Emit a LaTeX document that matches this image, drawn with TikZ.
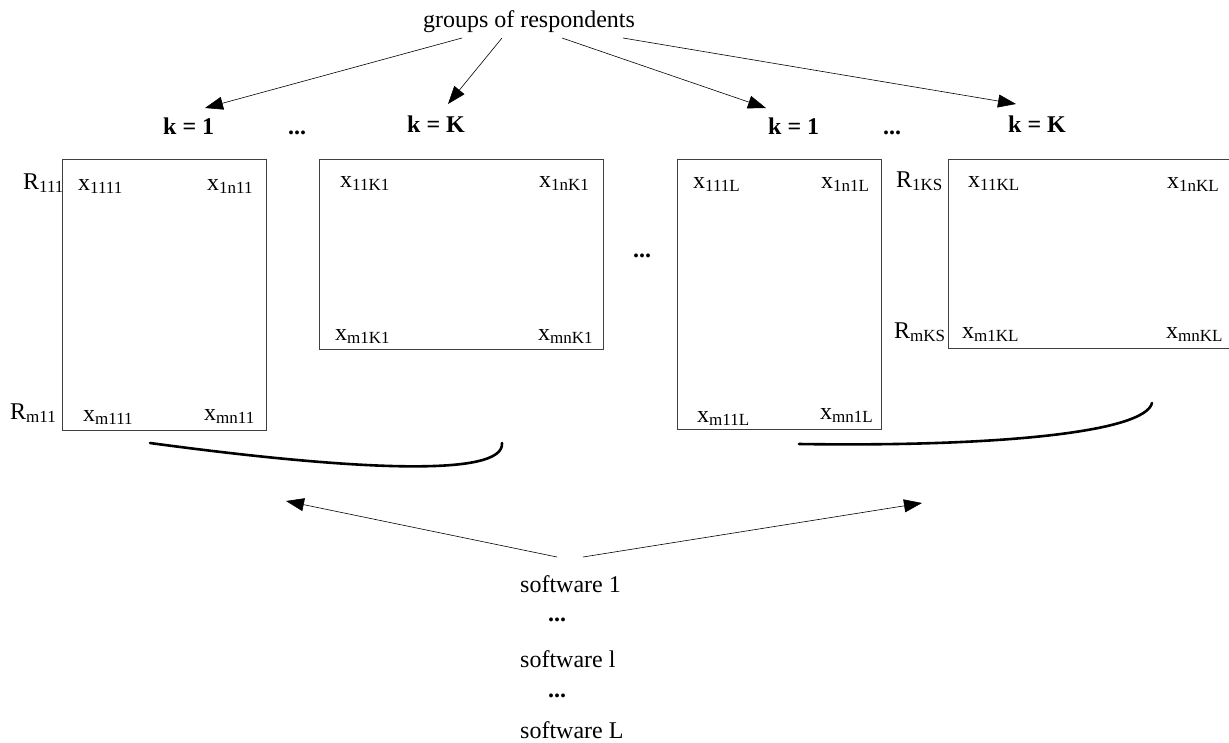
\documentclass[tikz,border=0pt]{standalone}
\usepackage{fontspec}
\setmainfont{Liberation Serif}
\usetikzlibrary{arrows.meta}
% lowered, smaller index text
\newcommand\sbs[1]{\raisebox{-3pt}{\fontsize{17}{17}\selectfont #1}}
\newcommand\vx[1]{x\sbs{#1}}
\newcommand\vR[1]{R\sbs{#1}}

\begin{document}
\begin{tikzpicture}[x=1pt,y=-1pt,
  lbl/.style={inner sep=0pt, anchor=base west, font=\fontsize{24}{28}\selectfont},
  klbl/.style={inner sep=0pt, anchor=base west, font=\fontsize{24}{28}\selectfont\bfseries},
  tbl/.style={draw=black!75, line width=0.9pt, inner sep=0pt, anchor=north west},
  arr/.style={line width=0.6pt, -{Triangle[length=18pt,width=13pt]}},
  brace/.style={line width=2.6pt, line cap=round}]
\useasboundingbox (0,0) rectangle (1229,742);

% title
\node[lbl, anchor=base] (groups) at (529,27) {groups of respondents};

% group headers
\node[klbl] (kA1) at (163,134) {k = 1};
\node[klbl] (dotsA) at (288,134) {...};
\node[klbl] (kAK) at (407,132) {k = K};
\node[klbl] (kB1) at (768,134) {k = 1};
\node[klbl] (dotsB) at (883,134) {...};
\node[klbl] (kBK) at (1008,132) {k = K};

% data matrices
\node[tbl, minimum width=204pt, minimum height=271pt] (m1) at (62,159) {};
\node[tbl, minimum width=284pt, minimum height=190pt] (m2) at (319,159) {};
\node[tbl, minimum width=204pt, minimum height=270pt] (m3) at (677,159) {};
\node[tbl, minimum width=300pt, minimum height=189pt] (m4) at (948,159) {};
\node[klbl] (dotsM) at (633,257) {...};

% matrix 1
\node[lbl] (r111) at (23,189) {\vR{111}};
\node[lbl] (a11) at (78,190) {\vx{1111}};
\node[lbl] (a12) at (207,190) {\vx{1n11}};
\node[lbl] (rm11) at (10,419) {\vR{m11}};
\node[lbl] (a21) at (83,421) {\vx{m111}};
\node[lbl] (a22) at (204,420) {\vx{mn11}};

% matrix 2
\node[lbl] (b11) at (340,187) {\vx{11K1}};
\node[lbl] (b12) at (539,187) {\vx{1nK1}};
\node[lbl] (b21) at (335,340) {\vx{m1K1}};
\node[lbl] (b22) at (538,340) {\vx{mnK1}};

% matrix 3
\node[lbl] (c11) at (693,188) {\vx{111L}};
\node[lbl] (c12) at (821,188) {\vx{1n1L}};
\node[lbl] (c21) at (697,422) {\vx{m11L}};
\node[lbl] (c22) at (820,419) {\vx{mn1L}};

% matrix 4
\node[lbl] (r1ks) at (896,187) {\vR{1KS}};
\node[lbl] (d11) at (968,187) {\vx{11KL}};
\node[lbl] (d12) at (1167,188) {\vx{1nKL}};
\node[lbl] (rmks) at (894,338) {\vR{mKS}};
\node[lbl] (d21) at (962,338) {\vx{m1KL}};
\node[lbl] (d22) at (1166,338) {\vx{mnKL}};

% software list
\node[lbl] (sw1) at (520,592) {software 1};
\node[klbl, anchor=base] (swd1) at (557,621) {...};
\node[lbl] (swl) at (520,667) {software l};
\node[klbl, anchor=base] (swd2) at (557,697) {...};
\node[lbl] (swL) at (520,738) {software L};

% arrow end points
\coordinate (g1) at (462,38);  \coordinate (h1) at (205,108);
\coordinate (g2) at (502,38);  \coordinate (h2) at (448,104);
\coordinate (g3) at (562,38);  \coordinate (h3) at (766,108);
\coordinate (g4) at (623,38);  \coordinate (h4) at (1016,104);
\coordinate (s1) at (557,557); \coordinate (t1) at (286,501);
\coordinate (s2) at (583,557); \coordinate (t2) at (922,503);

\draw[arr] (g1) -- (h1);
\draw[arr] (g2) -- (h2);
\draw[arr] (g3) -- (h3);
\draw[arr] (g4) -- (h4);
\draw[arr] (s1) -- (t1);
\draw[arr] (s2) -- (t2);

% braces under the two software blocks
\coordinate (u1) at (150,443); \coordinate (v1) at (502,443);
\coordinate (u2) at (799,444); \coordinate (v2) at (1152,403);
\draw[brace] (u1) .. controls (350,470) and (505,478) .. (v1);
\draw[brace] (u2) .. controls (1000,447) and (1145,432) .. (v2);
\end{tikzpicture}
\end{document}
